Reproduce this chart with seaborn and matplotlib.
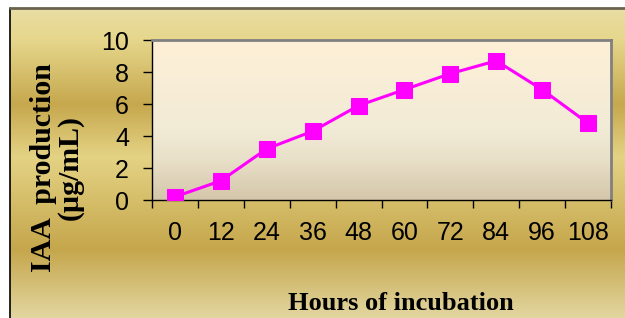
import numpy as np
import pandas as pd
import matplotlib
matplotlib.use("Agg")
import matplotlib.pyplot as plt
import seaborn as sns
from matplotlib.colors import LinearSegmentedColormap

# data
hours = ["0", "12", "24", "36", "48", "60", "72", "84", "96", "108"]
iaa = [0.2, 1.2, 3.2, 4.3, 5.9, 6.9, 7.9, 8.7, 6.9, 4.8]
y_ticks = [0, 2, 4, 6, 8, 10]

df = pd.DataFrame({"Hours": hours, "IAA": iaa})

sns.set_style("white")
plt.rcParams["font.family"] = ["Liberation Sans", "DejaVu Sans"]
plt.rcParams["text.color"] = "black"

W, H = 625, 318
fig = plt.figure(figsize=(W / 100, H / 100), dpi=100)
fig.patch.set_facecolor("white")

# golden banded figure background
bg_stops = [(0.0, "#e9dda4"), (0.10, "#e6d78c"), (0.31, "#c6a84e"),
            (0.48, "#e4d384"), (0.78, "#c5a64c"), (1.0, "#e2d6a0")]
bg_cmap = LinearSegmentedColormap.from_list("bg", bg_stops)
bg = fig.add_axes([10 / W, 0, 1 - 10 / W, 1 - 8 / H])
bg.imshow(np.linspace(0, 1, 256).reshape(-1, 1), aspect="auto", cmap=bg_cmap,
          extent=[0, 1, 0, 1], origin="upper")
bg.set_axis_off()
# frame lines of the chart area
fig.add_artist(plt.Line2D([10 / W, 10 / W], [0, 1 - 8 / H], color="black", lw=1.2))
fig.add_artist(plt.Line2D([10 / W, 1], [1 - 7.5 / H, 1 - 7.5 / H], color="#6b6350", lw=2))

ax = fig.add_axes([152 / W, 1 - 200 / H, (611 - 152) / W, 160 / H])
ax.set_zorder(2)

# plot-area gradient, light at top, tan at bottom
pa_stops = [(0.0, "#fef0d6"), (0.55, "#f2ebd7"), (0.75, "#e8e0c8"), (1.0, "#d4c6aa")]
pa_cmap = LinearSegmentedColormap.from_list("pa", pa_stops)

sns.lineplot(data=df, x="Hours", y="IAA", ax=ax, sort=False, color="#ff00ff",
             lw=2.2, marker="s", markersize=11, markeredgecolor="#ff00ff", zorder=3)

ax.set_xlim(-0.5, len(hours) - 0.5)
ax.imshow(np.linspace(0, 1, 256).reshape(-1, 1), aspect="auto", cmap=pa_cmap,
          extent=[-0.5, len(hours) - 0.5, 0, 10], origin="upper", zorder=0)
ax.set_xlim(-0.5, len(hours) - 0.5)
ax.set_ylim(0, 10)

ax.set_yticks(y_ticks)
ax.set_xticks(range(len(hours)))
ax.set_xticklabels(hours)
ax.set_xticks(np.arange(-0.5, len(hours), 1), minor=True)
ax.tick_params(axis="x", which="major", length=0, labelsize=18, pad=15, labelcolor="black")
ax.tick_params(axis="x", which="minor", length=6, width=1, color="black", direction="out", bottom=True)
ax.tick_params(axis="y", length=6.5, width=1, color="black", direction="out", left=True,
               labelsize=18, pad=10, labelcolor="black")
ax.set_xlabel("")
ax.set_ylabel("")

for s in ["top", "right"]:
    ax.spines[s].set_color("#808080")
    ax.spines[s].set_linewidth(2)
for s in ["left", "bottom"]:
    ax.spines[s].set_color("black")
    ax.spines[s].set_linewidth(1)

fig.text(401 / W, 1 - 303 / H, "Hours of incubation", ha="center", va="center",
         family="Liberation Serif", fontweight="bold", fontsize=19)
fig.text(57 / W, 1 - 168 / H, "IAA  production\n(µg/mL)", ha="center", va="center",
         rotation=90, family="Liberation Serif", fontweight="bold", fontsize=21.5,
         linespacing=0.95, multialignment="center")

fig.savefig("out.png", dpi=100)
